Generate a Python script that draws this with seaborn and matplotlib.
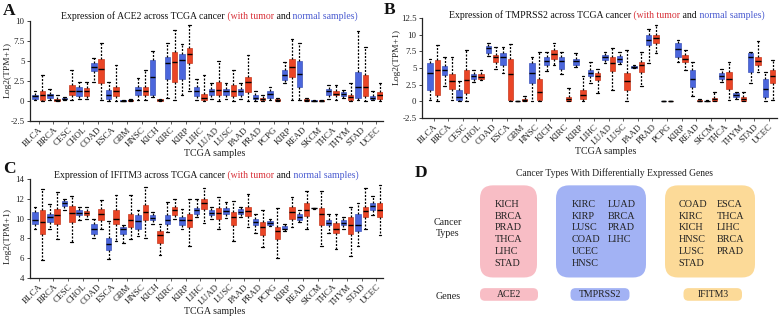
import numpy as np
import pandas as pd
import matplotlib
matplotlib.use("Agg")
import matplotlib.pyplot as plt
import seaborn as sns
from matplotlib.patches import FancyBboxPatch

# ---------------- data ----------------
cancers = ["BLCA", "BRCA", "CESC", "CHOL", "COAD", "ESCA", "GBM", "HNSC", "KICH", "KIRC",
           "KIRP", "LIHC", "LUAD", "LUSC", "PAAD", "PRAD", "PCPG", "KIRP", "READ", "SKCM",
           "THCA", "THYM", "STAD", "UCEC"]

# five-number summaries (low whisker, q1, median, q3, high whisker)
ace2_normal = [
    (0.1, 0.3, 0.6, 0.8, 1.3), (0.1, 0.4, 0.7, 0.9, 1.5), (0.15, 0.2, 0.3, 0.4, 0.5),
    (0.3, 0.6, 1.3, 1.7, 2.4), (2.4, 3.7, 4.2, 4.7, 5.4), (0.0, 0.3, 0.7, 1.4, 2.4),
    (0.0, 0.02, 0.05, 0.1, 0.15), (0.1, 0.7, 1.4, 1.8, 2.9), (0.5, 0.8, 3.0, 5.1, 6.3),
    (0.4, 2.8, 4.7, 5.5, 7.2), (0.7, 2.8, 5.1, 5.9, 7.1), (0.1, 0.6, 1.25, 1.7, 2.8),
    (0.2, 0.7, 1.25, 1.55, 2.2), (0.2, 0.7, 1.25, 1.55, 2.2), (0.2, 0.7, 1.25, 1.55, 2.3),
    (0.0, 0.2, 0.4, 0.7, 1.3), (0.1, 0.4, 0.9, 1.3, 1.8), (2.3, 2.6, 3.2, 3.85, 4.9),
    (0.1, 1.75, 3.35, 5.0, 7.3), (0.0, 0.02, 0.05, 0.08, 0.1), (0.2, 0.7, 1.2, 1.55, 2.0),
    (0.4, 0.6, 0.9, 1.1, 1.4), (0.1, 0.4, 1.8, 3.6, 8.7), (0.1, 0.2, 0.4, 0.6, 1.25),
]
ace2_tumor = [
    (0.0, 0.15, 0.7, 1.3, 3.2), (0.0, 0.05, 0.1, 0.2, 0.7), (0.1, 0.7, 1.3, 2.0, 3.9),
    (0.3, 0.6, 1.3, 1.6, 2.4), (0.1, 2.2, 4.0, 5.2, 7.3), (0.0, 0.6, 1.3, 1.7, 4.5),
    (0.0, 0.05, 0.1, 0.15, 0.3), (0.1, 0.7, 1.3, 1.7, 3.9), (0.0, 0.05, 0.15, 0.2, 0.3),
    (0.1, 2.4, 4.9, 6.1, 8.9), (1.3, 4.7, 5.9, 6.6, 9.5), (0.0, 0.1, 0.4, 0.9, 3.3),
    (0.0, 0.7, 1.4, 2.4, 5.0), (0.0, 0.6, 1.3, 2.0, 3.9), (0.0, 1.1, 2.4, 3.0, 5.7),
    (0.0, 0.1, 0.2, 0.4, 0.7), (0.0, 0.05, 0.1, 0.2, 0.4), (0.1, 3.0, 4.3, 5.3, 7.7),
    (0.0, 0.05, 0.15, 0.2, 0.4), (0.0, 0.02, 0.05, 0.08, 0.15), (0.1, 0.7, 0.9, 1.3, 2.0),
    (0.0, 0.15, 0.5, 0.8, 2.2), (0.0, 0.6, 1.7, 3.2, 6.8), (0.0, 0.3, 0.7, 1.1, 2.3),
]
tmprss2_normal = [
    (0.15, 1.7, 4.3, 5.7, 6.4), (2.3, 3.9, 4.7, 5.3, 6.6), (0.0, 0.15, 0.65, 1.7, 3.1),
    (2.9, 3.3, 3.8, 4.1, 4.7), (6.8, 7.3, 7.95, 8.3, 8.8), (4.2, 5.4, 6.6, 7.2, 8.2),
    (0.0, 0.02, 0.05, 0.08, 0.1), (0.1, 2.7, 4.2, 5.7, 6.7), (4.5, 5.5, 6.1, 6.6, 7.4),
    (4.1, 4.9, 6.0, 6.7, 7.4), (5.2, 5.4, 6.0, 6.4, 7.2), (2.7, 3.8, 4.3, 4.7, 5.9),
    (5.8, 6.2, 6.7, 6.9, 7.4), (5.6, 5.9, 6.4, 6.8, 7.4), (5.0, 5.05, 5.2, 5.3, 5.4),
    (5.7, 8.5, 9.2, 10.0, 10.8), (0.0, 0.0, 0.0, 0.0, 0.0), (5.9, 6.7, 7.8, 8.7, 9.2),
    (0.75, 2.1, 3.3, 4.7, 5.9), (0.05, 0.08, 0.1, 0.12, 0.15), (2.9, 3.3, 3.8, 4.3, 4.9),
    (0.4, 0.65, 0.9, 1.2, 1.4), (2.8, 4.4, 6.6, 7.2, 7.4), (0.0, 0.65, 1.9, 3.4, 4.4),
]
tmprss2_tumor = [
    (0.1, 0.9, 4.7, 6.2, 8.5), (0.25, 1.8, 3.0, 4.1, 6.7), (0.0, 1.2, 3.2, 4.7, 7.7),
    (3.2, 3.4, 3.7, 4.1, 4.7), (4.8, 5.9, 6.6, 6.9, 8.2), (0.0, 0.15, 4.1, 6.4, 8.6),
    (0.0, 0.05, 0.25, 0.4, 0.75), (0.0, 0.15, 1.4, 3.3, 7.4), (5.4, 6.3, 7.1, 7.7, 8.8),
    (0.0, 0.05, 0.3, 0.65, 2.0), (0.0, 0.4, 1.0, 1.7, 3.8), (1.3, 3.2, 3.8, 4.3, 4.8),
    (1.7, 4.6, 5.8, 6.6, 7.95), (0.0, 1.7, 3.0, 4.3, 7.7), (2.3, 4.4, 5.4, 5.9, 7.4),
    (7.2, 8.8, 9.5, 10.0, 11.5), (0.0, 0.0, 0.0, 0.0, 0.0), (4.7, 5.9, 6.4, 6.9, 7.7),
    (0.0, 0.05, 0.1, 0.15, 0.4), (0.0, 0.05, 0.3, 0.5, 1.4), (0.15, 1.9, 3.4, 4.4, 5.9),
    (0.0, 0.05, 0.3, 0.65, 1.4), (4.4, 5.4, 6.1, 6.7, 9.0), (0.25, 2.8, 3.8, 4.7, 6.2),
]
ifitm3_normal = [
    (8.9, 9.5, 9.9, 10.7, 11.2), (8.9, 9.7, 10.2, 10.5, 11.5), (10.9, 11.3, 11.6, 11.8, 12.0),
    (9.9, 10.4, 10.6, 10.9, 11.2), (8.0, 8.4, 8.9, 9.5, 10.0), (5.9, 6.85, 7.4, 8.0, 9.8),
    (7.5, 8.4, 8.9, 9.2, 9.4), (8.2, 9.0, 9.8, 10.4, 10.9), (9.5, 9.9, 10.1, 10.4, 10.7),
    (8.6, 9.5, 9.9, 10.4, 11.7), (8.9, 9.4, 9.9, 10.2, 11.0), (10.2, 10.5, 10.9, 11.1, 11.95),
    (10.0, 10.4, 10.6, 10.9, 11.2), (10.1, 10.5, 10.8, 11.05, 11.7), (10.2, 10.45, 10.7, 11.0, 11.2),
    (8.5, 9.4, 9.7, 10.0, 10.5), (9.3, 9.4, 9.6, 9.8, 9.95), (8.7, 8.9, 9.0, 9.3, 9.5),
    (9.7, 9.9, 10.2, 10.5, 10.9), (11.0, 11.05, 11.05, 11.05, 11.1), (8.5, 9.4, 9.6, 9.9, 10.5),
    (9.0, 9.4, 9.6, 9.9, 10.2), (7.25, 8.7, 9.4, 10.5, 11.6), (10.4, 10.9, 11.3, 11.6, 12.3),
]
ifitm3_tumor = [
    (5.8, 8.4, 9.7, 10.9, 13.0), (7.9, 9.5, 10.4, 11.0, 12.7), (7.6, 9.7, 10.6, 11.3, 12.3),
    (10.0, 10.4, 10.6, 10.8, 11.2), (9.0, 9.9, 10.5, 11.0, 11.9), (7.7, 9.5, 10.0, 10.9, 12.4),
    (7.9, 9.2, 9.9, 10.5, 12.4), (8.0, 9.9, 10.7, 11.4, 13.2), (6.3, 7.5, 8.3, 8.7, 9.5),
    (10.0, 10.4, 10.9, 11.2, 12.0), (7.2, 9.2, 9.9, 10.5, 11.95), (9.6, 10.95, 11.55, 11.95, 13.1),
    (8.9, 10.0, 10.6, 11.05, 12.15), (7.7, 9.4, 10.2, 10.7, 11.8), (9.2, 10.3, 10.8, 11.2, 12.45),
    (7.1, 8.3, 9.2, 9.7, 10.9), (6.0, 7.9, 8.7, 9.2, 11.1), (9.2, 10.0, 10.7, 11.2, 12.2),
    (9.0, 10.3, 10.9, 11.55, 12.8), (7.25, 9.4, 10.5, 11.05, 12.8), (6.9, 8.5, 9.0, 9.6, 10.5),
    (6.2, 8.4, 9.4, 10.2, 11.2), (9.0, 10.2, 10.8, 11.2, 13.1), (8.3, 10.2, 10.9, 11.55, 13.4),
]

a_yticks = [-2.5, 0, 2.5, 5, 7.5, 10]
a_yticklabels = ["-2.5", "0", "2.5", "5", "7.5", "10"]
b_yticks = [-2.5, 0, 2.5, 5, 7.5, 10, 12.5]
b_yticklabels = ["-2.5", "0", "2.5", "5", "7.5", "10", "12.5"]
c_yticks = [4, 6, 8, 10, 12, 14]
c_yticklabels = ["4", "6", "8", "10", "12", "14"]

genes = ["ACE2", "TMPRSS2", "IFITM3"]
ace2_types = ["KICH", "BRCA", "PRAD", "THCA", "LIHC", "STAD"]
tmprss2_types_col1 = ["KIRC", "KIRP", "LUSC", "COAD", "UCEC", "HNSC"]
tmprss2_types_col2 = ["LUAD", "BRCA", "PRAD", "LIHC"]
ifitm3_types_col1 = ["COAD", "KIRC", "KICH", "HNSC", "LUSC", "STAD"]
ifitm3_types_col2 = ["ESCA", "THCA", "LIHC", "BRCA", "PRAD"]

# ---------------- style ----------------
sns.set_theme(style="white")
plt.rcParams["font.family"] = ["Liberation Serif", "DejaVu Serif"]

W, H = 779, 318
BLUE = "#4b66dc"
RED = "#ea4526"
T_RED = "#d8323a"
T_BLUE = "#4a5bd0"
pal = {"Normal": BLUE, "Tumor": RED}

fig = plt.figure(figsize=(W / 100, H / 100), dpi=100)


def fx(px):
    return px / W


def fy(py):
    return 1 - py / H


def box_panel(rect, normal, tumor, yticks, yticklabels, ylim, xlim):
    l, t, r, b = rect
    ax = fig.add_axes([fx(l), fy(b), (r - l) / W, (b - t) / H])
    rows = []
    for i in range(len(cancers)):
        for grp, st in (("Normal", normal[i]), ("Tumor", tumor[i])):
            for v in st:
                rows.append((i, grp, v))
    df = pd.DataFrame(rows, columns=["cancer", "group", "value"])
    sns.boxplot(data=df, x="cancer", y="value", hue="group", hue_order=["Normal", "Tumor"],
                palette=pal, saturation=1, width=1.0, gap=0.26, whis=(0, 100),
                linecolor="black", linewidth=0.8, showfliers=False, legend=False, ax=ax,
                whiskerprops=dict(linestyle=(0, (1.6, 1.2)), linewidth=0.9, color="black"),
                capprops=dict(linewidth=0.9, color="black"),
                medianprops=dict(linewidth=1.0, color="black"))
    for p in ax.patches:
        fc = p.get_facecolor()
        p.set_edgecolor(tuple(c * 0.85 for c in fc[:3]) + (1,))
        p.set_linewidth(0.5)
    ax.set_xlim(*xlim)
    ax.set_ylim(*ylim)
    ax.set_yticks(yticks)
    ax.set_yticklabels(yticklabels)
    ax.set_xticks(range(len(cancers)))
    ax.set_xticklabels(cancers, rotation=45, ha="right", rotation_mode="anchor")
    ax.set_xlabel("")
    ax.set_ylabel("")
    for s in ("top", "right"):
        ax.spines[s].set_visible(False)
    for s in ("left", "bottom"):
        ax.spines[s].set_color("#222222")
        ax.spines[s].set_linewidth(0.9)
    ax.tick_params(axis="y", left=True, length=2.5, width=0.6, pad=1.5, labelsize=6.4, colors="#222222")
    ax.tick_params(axis="x", bottom=True, length=2, width=0.5, pad=1.5, labelsize=6.5, colors="#222222")
    ax.set_facecolor("none")
    return ax


def colored_title(x_px, y_px, parts, fs=7.0):
    t = fig.text(fx(x_px), fy(y_px), parts[0][0], color=parts[0][1], fontsize=fs,
                 ha="left", va="center")
    for s, c in parts[1:]:
        t = fig.axes[0].annotate(s, xy=(1, 0), xycoords=t, color=c, fontsize=fs,
                                 ha="left", va="bottom", annotation_clip=False)
    return t


# Panel A
axA = box_panel((30, 21, 383, 121), ace2_normal, ace2_tumor, a_yticks, a_yticklabels,
                (-2.5, 10), (-0.6, 23.45))
# Panel B
axB = box_panel((422, 18, 777, 118), tmprss2_normal, tmprss2_tumor, b_yticks, b_yticklabels,
                (-2.5, 12.5), (-0.8, 23.55))
# Panel C
axC = box_panel((30, 179, 383, 278), ifitm3_normal, ifitm3_tumor, c_yticks, c_yticklabels,
                (4, 14), (-0.6, 23.45))


def title_parts(gene):
    return [("Expression of %s across TCGA cancer" % gene, "#111111"),
            (" (with tumor", T_RED), (" and", "#111111"), (" normal samples)", T_BLUE)]


colored_title(61, 16.5, title_parts("ACE2"))
colored_title(449, 15, title_parts("TMPRSS2"))
colored_title(54, 175, title_parts("IFITM3"))

# axis labels
for (x, y) in ((8, 70), (397, 57), (8, 236)):
    fig.text(fx(x), fy(y), "Log2(TPM+1)", rotation=90, ha="center", va="center",
             fontsize=6.8, color="#222222")
for (x, y) in ((215, 154), (606, 151), (215, 312)):
    fig.text(fx(x), fy(y), "TCGA samples", ha="center", va="center", fontsize=7.2, color="#222222")

# panel letters
for (x, y, s) in ((3, 3, "A"), (384, 2, "B"), (3, 161, "C"), (415, 165, "D")):
    fig.text(fx(x), fy(y), s, ha="left", va="top", fontsize=12.5, fontweight="bold", color="#111111")

# ---------------- Panel D ----------------
axD = fig.add_axes([fx(400), 0, (W - 400) / W, 160 / H])
axD.set_xlim(400, W)
axD.set_ylim(H, 160)
axD.axis("off")

PINK = "#f8bdc5"
LBLUE = "#a2b2f4"
ORANGE = "#fcda98"

axD.text(615, 175, "Cancer Types With Differentially Expressed Genes", ha="center", va="center",
         fontsize=6.9, color="#222222")

big_boxes = [(480, 537, PINK), (556, 646, LBLUE), (665, 755, ORANGE)]
for (x0, x1, col) in big_boxes:
    axD.add_patch(FancyBboxPatch((x0, 187), x1 - x0, 91, boxstyle="round,pad=0,rounding_size=13",
                                 facecolor=col, edgecolor="none"))

gene_boxes = [(480, 538), (570.5, 629.5), (683.5, 742)]
for g, (x0, x1), (_, _, col) in zip(genes, gene_boxes, big_boxes):
    axD.add_patch(FancyBboxPatch((x0, 288.5), x1 - x0, 12.5, boxstyle="round,pad=0,rounding_size=5",
                                 facecolor=col, edgecolor="none"))
    axD.text((x0 + x1) / 2, 295, g, ha="center", va="center", fontsize=7, color="#222222")

row_y = [205.7, 217.4, 229.1, 240.8, 252.5, 264.2]


def col_text(x, items):
    for yy, s in zip(row_y, items):
        axD.text(x, yy, s, ha="left", va="center", fontsize=7.3, color="#222222")


col_text(494.5, ace2_types)
col_text(571.5, tmprss2_types_col1)
col_text(608, tmprss2_types_col2)
col_text(678.5, ifitm3_types_col1)
col_text(717, ifitm3_types_col2)

axD.text(447.5, 223.5, "Cancer", ha="center", va="center", fontsize=7.2, color="#222222")
axD.text(447.5, 234.5, "Types", ha="center", va="center", fontsize=7.2, color="#222222")
axD.text(448, 296.5, "Genes", ha="center", va="center", fontsize=7.2, color="#222222")

fig.savefig("out.png", dpi=100)
